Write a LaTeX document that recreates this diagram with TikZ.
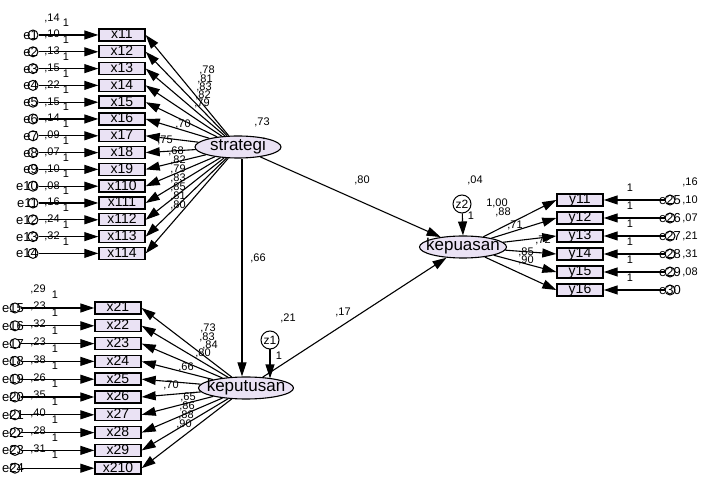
\documentclass[tikz,border=0pt]{standalone}
\usepackage{fontspec}
\setmainfont{Liberation Sans}
\usepackage{xcolor}
\usepackage{tikz}
\usetikzlibrary{arrows.meta, positioning, shapes.geometric, calc}
\definecolor{lavender}{RGB}{234,226,244}

\begin{document}
\begin{tikzpicture}[x=1pt,y=-1pt,>={Triangle[length=14pt,width=9pt]},
  ind/.style={draw,line width=1.4pt,fill=lavender,minimum width=46pt,
              minimum height=12pt,inner sep=0pt,text height=9pt,text depth=1pt,
              font=\fontsize{14}{14}\selectfont},
  lat/.style={draw,ellipse,line width=1.1pt,fill=lavender,inner xsep=-8pt,
              inner ysep=-3pt,minimum height=22pt,text height=11pt,text depth=3pt,
              font=\fontsize{17}{17}\selectfont},
  err/.style={draw,circle,line width=1pt,minimum size=10pt,inner sep=0pt},
  elbl/.style={anchor=east,inner sep=0pt,font=\fontsize{13}{13}\selectfont},
  num/.style={inner sep=0pt,font=\fontsize{11}{11}\selectfont},
  arr/.style={->,line width=1.1pt}]
  \useasboundingbox (0,0) rectangle (705,486);

  % latent variables
  \node[lat,minimum width=86pt] (strategi) at (238,147) {strategi};
  \node[lat,minimum width=95pt] (keputusan) at (246,388) {keputusan};
  \node[lat,minimum width=87pt] (kepuasan) at (463,247) {kepuasan};

  % strategi indicators
  \foreach \i/\v/\w/\lx/\ly in {1/14/78/207/70, 2/10/81/205/79, 3/13/83/204/87,
      4/15/82/203/95, 5/22/79/202/103, 6/15/70/183/124, 7/14/75/165/140,
      8/09/68/176/151, 9/07/82/178/160, 10/10/79/178/169, 11/08/83/178/178,
      12/16/85/178/187, 13/24/81/178/196, 14/32/80/178/205} {
    \pgfmathsetmacro\yy{35+16.8*(\i-1)}
    \node[ind] (x1\i) at (122,\yy) {x1\i};
    \node[err] (e\i) at (33,\yy) {};
    \node[elbl] (le\i) at (38,\yy) {e\i};
    \node[num] (ve\i) at (52,\yy-17) {,\v};
    \node[num] (we\i) at (66,\yy-12) {1};
    \draw[arr] (e\i) -- (x1\i.west);
    \draw[arr] (strategi) -- (x1\i.east);
    \node[num] (ls\i) at (\lx,\ly) {,\w};
  }

  % keputusan indicators
  \foreach \i/\v/\w/\lx/\ly in {1/29/73/208/328, 2/23/83/207/337, 3/32/84/210/345,
      4/23/80/203/353, 5/38/66/186/367, 6/26/70/171/385, 7/35/65/188/397,
      8/40/86/187/406, 9/28/88/186/415, 10/31/90/184/424} {
    \pgfmathsetmacro\yy{308+17.8*(\i-1)}
    \pgfmathtruncatemacro\en{\i+14}
    \node[ind] (x2\i) at (118,\yy) {x2\i};
    \node[err] (e\en) at (15,\yy) {};
    \node[elbl] (le\en) at (24,\yy) {e\en};
    \node[num] (ve\en) at (38,\yy-19) {,\v};
    \node[num] (we\en) at (55,\yy-13) {1};
    \draw[arr] (e\en) -- (x2\i.west);
    \draw[arr] (keputusan) -- (x2\i.east);
    \node[num] (lk\i) at (\lx,\ly) {,\w};
  }

  % kepuasan indicators
  \foreach \i/\v/\w/\lx/\ly in {1/16/{1,00}/497/203, 2/10/{,88}/503/212,
      3/07/{,71}/515/225, 4/21/{,72}/543/240, 5/31/{,85}/526/252, 6/08/{,90}/526/260} {
    \pgfmathsetmacro\yy{200+18*(\i-1)}
    \pgfmathtruncatemacro\en{\i+24}
    \node[ind] (y1\i) at (580,\yy) {y1\i};
    \node[err] (e\en) at (670,\yy) {};
    \node[elbl] (le\en) at (681,\yy) {e\en};
    \node[num] (ve\en) at (690,\yy-18) {,\v};
    \node[num] (we\en) at (630,\yy-12) {1};
    \draw[arr] (e\en) -- (y1\i.east);
    \draw[arr] (kepuasan) -- (y1\i.west);
    \node[num] (lp\i) at (\lx,\ly) {\w};
  }

  % disturbances
  \node[err,minimum size=18pt,font=\fontsize{12}{12}\selectfont] (z1) at (270,340) {z1};
  \node[err,minimum size=18pt,font=\fontsize{12}{12}\selectfont] (z2) at (462,204) {z2};
  \coordinate (k1) at (270,378.5);
  \draw[arr] (z1) -- (k1);
  \draw[arr] (z2) -- (kepuasan.north);
  \node[num] (vz1) at (288,318) {,21};
  \node[num] (wz1) at (279,356) {1};
  \node[num] (vz2) at (475,180) {,04};
  \node[num] (wz2) at (471,216) {1};
  \node[num] (vs) at (262,122) {,73};

  % structural paths
  \draw[arr] ($(strategi.south)+(4,0)$) -- ($(keputusan.north)+(-4,0)$);
  \draw[arr] (strategi) -- (kepuasan);
  \draw[arr] (keputusan) -- (kepuasan);
  \node[num] (b1) at (258,258) {,66};
  \node[num] (b2) at (362,180) {,80};
  \node[num] (b3) at (343,312) {,17};
\end{tikzpicture}
\end{document}
